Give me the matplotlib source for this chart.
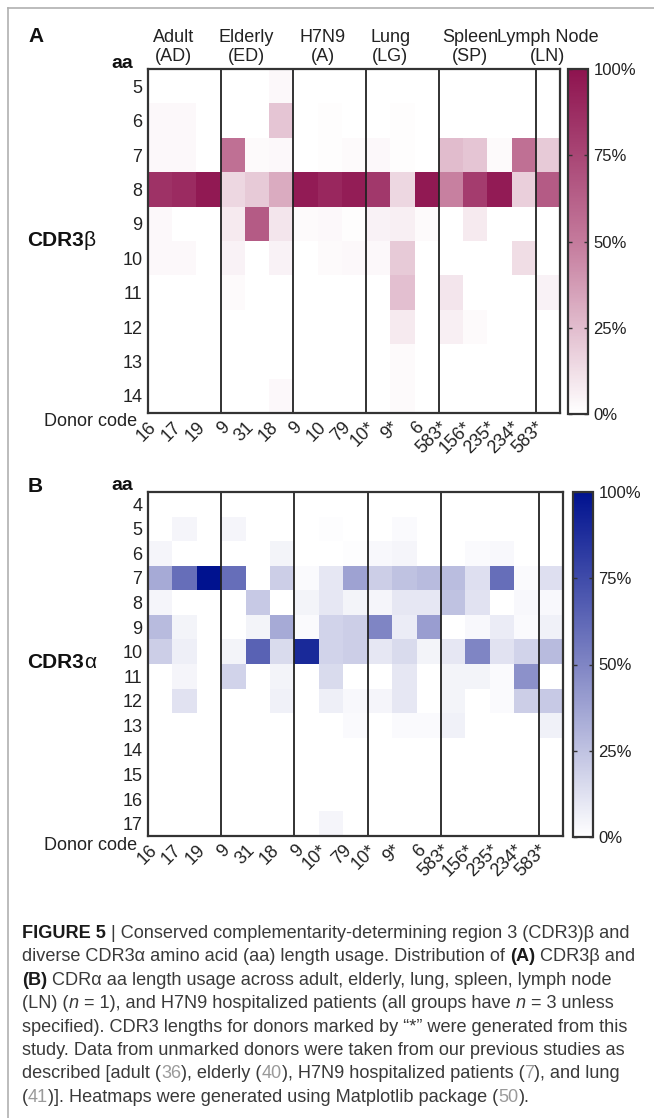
import numpy as np
import matplotlib
matplotlib.use("Agg")
import matplotlib.pyplot as plt
from matplotlib.colors import LinearSegmentedColormap
from matplotlib.lines import Line2D
from matplotlib.transforms import blended_transform_factory

plt.rcParams["font.family"] = ["Liberation Sans", "DejaVu Sans"]

W, H = 654, 1118

# ---- data (percent of clonotypes per CDR3 length) ----
donors_a = ["16", "17", "19", "9", "31", "18", "9", "10", "79", "10*", "9*", "6",
            "583*", "156*", "235*", "234*", "583*"]
donors_b = ["16", "17", "19", "9", "31", "18", "9", "10*", "79", "10*", "9*", "6",
            "583*", "156*", "235*", "234*", "583*"]
groups = ["Adult\n(AD)", "Elderly\n(ED)", "H7N9\n(A)", "Lung\n(LG)",
          "Spleen\n(SP)", "Lymph Node\n(LN)"]
group_label_x = [1.05, 4.05, 7.2, 10.0, 13.3, 16.5]
group_breaks = [3, 6, 9, 12, 16]

beta_aa = [5, 6, 7, 8, 9, 10, 11, 12, 13, 14]
beta = [
    [0, 0, 0, 0, 0, 3, 0, 0, 0, 0, 0, 0, 0, 0, 0, 0, 0],
    [3, 3, 0, 0, 0, 22, 0, 1, 0, 0, 1, 0, 0, 0, 0, 0, 0],
    [3, 3, 0, 55, 2, 3, 0, 1, 2, 3, 1, 0, 25, 22, 2, 55, 20],
    [85, 88, 97, 15, 20, 32, 96, 90, 95, 82, 15, 97, 48, 80, 96, 18, 65],
    [3, 0, 0, 8, 65, 10, 2, 3, 1, 5, 6, 2, 0, 8, 0, 0, 0],
    [3, 3, 0, 5, 0, 5, 0, 2, 3, 3, 20, 0, 0, 0, 0, 13, 0],
    [0, 0, 0, 2, 0, 0, 0, 0, 0, 0, 24, 0, 10, 0, 0, 0, 5],
    [0, 0, 0, 0, 0, 0, 0, 0, 0, 0, 8, 0, 6, 2, 0, 0, 0],
    [0, 0, 0, 0, 0, 0, 0, 0, 0, 0, 2, 0, 0, 0, 0, 0, 0],
    [0, 0, 0, 0, 0, 3, 0, 0, 0, 0, 2, 0, 0, 0, 0, 0, 0],
]

alpha_aa = [4, 5, 6, 7, 8, 9, 10, 11, 12, 13, 14, 15, 16, 17]
alpha = [
    [0, 0, 0, 0, 0, 0, 0, 0, 0, 0, 0, 0, 0, 0, 0, 0, 0],
    [0, 4, 0, 4, 0, 0, 0, 1, 0, 0, 2, 0, 0, 0, 0, 0, 0],
    [4, 0, 0, 0, 0, 5, 0, 0, 1, 3, 4, 0, 0, 2, 3, 0, 0],
    [35, 60, 100, 60, 0, 20, 2, 10, 38, 20, 25, 28, 27, 13, 60, 2, 13],
    [4, 0, 0, 0, 22, 0, 5, 10, 5, 4, 10, 10, 25, 12, 0, 3, 3],
    [28, 5, 0, 0, 5, 35, 2, 18, 20, 50, 8, 40, 0, 3, 8, 2, 6],
    [20, 7, 0, 5, 65, 15, 90, 18, 20, 10, 15, 5, 10, 50, 12, 18, 28],
    [0, 4, 0, 18, 0, 5, 0, 15, 0, 0, 10, 0, 5, 5, 2, 45, 0],
    [0, 12, 0, 0, 0, 6, 0, 7, 3, 4, 10, 0, 5, 0, 2, 20, 22],
    [0, 0, 0, 0, 0, 0, 0, 0, 2, 0, 2, 2, 6, 0, 0, 0, 6],
    [0, 0, 0, 0, 0, 0, 0, 0, 0, 0, 0, 0, 0, 0, 0, 0, 0],
    [0, 0, 0, 0, 0, 0, 0, 0, 0, 0, 0, 0, 0, 0, 0, 0, 0],
    [0, 0, 0, 0, 0, 0, 0, 0, 0, 0, 0, 0, 0, 0, 0, 0, 0],
    [0, 0, 0, 0, 0, 0, 0, 4, 0, 0, 0, 0, 0, 0, 0, 0, 0],
]

cmap_a = LinearSegmentedColormap.from_list("maroon", ["#ffffff", "#c47a9c", "#8e134f"])
cmap_b = LinearSegmentedColormap.from_list("navy", ["#ffffff", "#7f85c4", "#00128f"])

fig = plt.figure(figsize=(W / 100, H / 100), dpi=100)
renderer = fig.canvas.get_renderer()


def px_rect(x0, y0, x1, y1):
    return [x0 / W, 1 - y1 / H, (x1 - x0) / W, (y1 - y0) / H]


def heatmap(ax, cax, data, aa, donors, cmap):
    data = np.array(data, dtype=float)
    nr, nc = data.shape
    mesh = ax.pcolormesh(np.arange(nc + 1), np.arange(nr + 1), data,
                         cmap=cmap, vmin=0, vmax=100)
    ax.set_xlim(0, nc)
    ax.set_ylim(nr, 0)
    ax.set_yticks(np.arange(nr) + 0.5)
    ax.set_yticklabels([str(a) for a in aa], fontsize=13, color="#222")
    ax.set_xticks(np.arange(nc) + 0.5)
    ax.set_xticklabels(donors, rotation=45, ha="right", va="top",
                       fontsize=13, color="#222")
    ax.tick_params(length=0, pad=4)
    for b in group_breaks:
        ax.axvline(b, color="#222", lw=1.3)
    for s in ax.spines.values():
        s.set_color("#333")
        s.set_linewidth(1.6)
    cb = fig.colorbar(mesh, cax=cax, ticks=[0, 25, 50, 75, 100])
    cb.ax.set_yticklabels(["0%", "25%", "50%", "75%", "100%"], fontsize=12, color="#222")
    cb.ax.tick_params(left=True, right=True, direction="in", length=3, width=1,
                      color="#333", pad=4)
    cb.outline.set_edgecolor("#333")
    cb.outline.set_linewidth(1.6)
    return ax


# ---- panel A ----
ax_a = fig.add_axes(px_rect(148, 69, 560, 413))
cax_a = fig.add_axes(px_rect(568, 69, 588, 414))
heatmap(ax_a, cax_a, beta, beta_aa, donors_a, cmap_a)
tr = blended_transform_factory(ax_a.transData, ax_a.transAxes)
for gx, g in zip(group_label_x, groups):
    ax_a.text(gx, 1.012, g, transform=tr, ha="center", va="bottom",
              fontsize=13, color="#222", linespacing=1.15)

# ---- panel B ----
ax_b = fig.add_axes(px_rect(148, 492, 563, 836))
cax_b = fig.add_axes(px_rect(573, 492, 593, 837))
heatmap(ax_b, cax_b, alpha, alpha_aa, donors_b, cmap_b)


def ftext(x, y, s, **kw):
    return fig.text(x / W, 1 - y / H, s, **kw)


def run_width(s, kw):
    t1 = fig.text(0, 0, "|" + s + "|", **kw)
    t2 = fig.text(0, 0, "||", **kw)
    w = t1.get_window_extent(renderer).width - t2.get_window_extent(renderer).width
    t1.remove()
    t2.remove()
    return w


def chain_label(x, y, bold_part, plain_part, size):
    kb = dict(fontsize=size, fontweight="bold", color="#111")
    ftext(x, y, bold_part, va="center", ha="left", **kb)
    ftext(x + run_width(bold_part, kb), y, plain_part, va="center", ha="left",
          fontsize=size, color="#111")


ftext(28, 36, "A", fontsize=15, fontweight="bold", va="center", ha="left", color="#111")
ftext(133, 63, "aa", fontsize=14, fontweight="bold", va="center", ha="right", color="#111")
chain_label(27, 241, "CDR3", "β", 15)
ftext(137, 422, "Donor code", fontsize=13, va="center", ha="right", color="#222")

ftext(28, 487, "B", fontsize=15, fontweight="bold", va="center", ha="left", color="#111")
ftext(133, 485, "aa", fontsize=14, fontweight="bold", va="center", ha="right", color="#111")
chain_label(27, 663, "CDR3", "α", 15)
ftext(137, 845, "Donor code", fontsize=13, va="center", ha="right", color="#222")

# frame lines
fig.add_artist(Line2D([8 / W, 8 / W], [0, 1 - 8 / H], transform=fig.transFigure,
                      color="#b0b0b0", lw=1.2))
fig.add_artist(Line2D([8 / W, 1], [1 - 8 / H, 1 - 8 / H], transform=fig.transFigure,
                      color="#b0b0b0", lw=1.2))

# ---- caption ----
caption = [
    [("FIGURE 5", "b"), (" | Conserved complementarity-determining region 3 (CDR3)β and", "")],
    [("diverse CDR3α amino acid (aa) length usage. Distribution of ", ""), ("(A)", "b"),
     (" CDR3β and", "")],
    [("(B)", "b"), (" CDRα aa length usage across adult, elderly, lung, spleen, lymph node", "")],
    [("(LN) (", ""), ("n", "i"), (" = 1), and H7N9 hospitalized patients (all groups have ", ""),
     ("n", "i"), (" = 3 unless", "")],
    [("specified). CDR3 lengths for donors marked by “*” were generated from this", "")],
    [("study. Data from unmarked donors were taken from our previous studies as", "")],
    [("described [adult (", ""), ("36", "g"), ("), elderly (", ""), ("40", "g"),
     ("), H7N9 hospitalized patients (", ""), ("7", "g"), ("), and lung", "")],
    [("(", ""), ("41", "g"), (")]. Heatmaps were generated using Matplotlib package (", ""),
     ("50", "g"), (").", "")],
]


def style_kw(st, size):
    kw = dict(fontsize=size, color="#3a3a3a")
    if st == "b":
        kw.update(fontweight="bold", color="#1a1a1a")
    elif st == "i":
        kw.update(fontstyle="italic")
    elif st == "g":
        kw.update(color="#9a9a9a")
    return kw


def line_width(runs, size):
    return sum(run_width(s, style_kw(st, size)) for s, st in runs)


cap_size = 12 * 608 / line_width(caption[0], 12)

for i, runs in enumerate(caption):
    x = 22
    y = 938 + i * 23.4
    for s, st in runs:
        kw = style_kw(st, cap_size)
        ftext(x, y, s, ha="left", va="baseline", **kw)
        x += run_width(s, kw)

fig.savefig("out.png", dpi=100)
